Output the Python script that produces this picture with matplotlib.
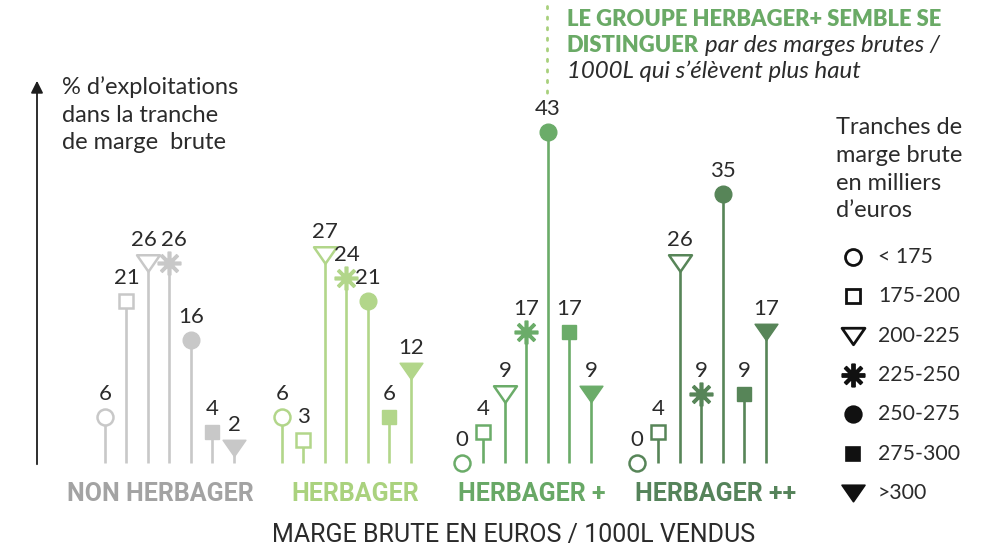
import matplotlib.pyplot as plt
from matplotlib.markers import MarkerStyle
from matplotlib.path import Path

plt.rcParams['font.family'] = ['Lato', 'DejaVu Sans']

# donnees (% d'exploitations par tranche)
groupes = ['NON HERBAGER', 'HERBAGER', 'HERBAGER +', 'HERBAGER ++']
tranches = ['< 175', '175-200', '200-225', '225-250', '250-275', '275-300', '>300']
non_herbager = [6, 21, 26, 26, 16, 4, 2]
herbager = [6, 3, 27, 24, 21, 6, 12]
herbager_plus = [0, 4, 9, 17, 43, 17, 9]
herbager_pp = [0, 4, 26, 9, 35, 9, 17]
series = [non_herbager, herbager, herbager_plus, herbager_pp]

couleurs = ['#c8c8c8', '#b2d68a', '#6bac69', '#578558']
couleurs_txt = ['#a3a3a3', '#aad27e', '#68a866', '#55835a']
TXT = '#2b2b2b'

W, H = 1002, 552
Y0, PX_PAR_PCT = 463, 7.7


def yv(py):
    # pixel vertical -> valeur en %
    return (Y0 - py) / PX_PAR_PCT


def fx(px):
    return px / W


def fy(py):
    return 1 - py / H


tri = Path([(-1, 0.72), (1, 0.72), (0, -0.72), (-1, 0.72)],
           [Path.MOVETO, Path.LINETO, Path.LINETO, Path.CLOSEPOLY])
etoile = MarkerStyle((8, 2, 0), capstyle='round')
# (marqueur, plein ?, taille, epaisseur)
styles = [('o', False, 11.5, 1.8), ('s', False, 10.5, 1.8), (tri, False, 16.5, 1.8),
          (etoile, True, 17, 2.6), ('o', True, 12, 1.0), ('s', True, 10.5, 1.0),
          (tri, True, 16.5, 1.0)]

debuts = [105, 282, 462, 637]
pas = 21.5
# position des noms de groupe
lab_x = [160, 355, 532, 716]

fig = plt.figure(figsize=(W / 100, H / 100), dpi=100)
ax = fig.add_axes([0, 0, 1, 1])
ax.set_xlim(0, W)
ax.set_ylim(yv(H), yv(0))
ax.axis('off')
rend = fig.canvas.get_renderer()


def ajuste(t, largeur):
    # met la taille du texte a la largeur voulue
    w = t.get_window_extent(rend).width
    t.set_fontsize(t.get_fontsize() * largeur / w)


for g, vals in enumerate(series):
    c = couleurs[g]
    for i, v in enumerate(vals):
        x = debuts[g] + i * pas
        ax.plot([x, x], [0, v], color=c, lw=1.9, zorder=1, solid_capstyle='butt')
        m, plein, ms, mew = styles[i]
        ax.plot([x], [v], marker=m, ms=ms, mec=c, mew=mew,
                mfc=c if plein else 'white', zorder=3, clip_on=False)
        dx = 0
        if g == 0 and i in (2, 3):
            dx = -3 if i == 2 else 3  # les deux "26" se touchent
        ax.annotate(str(v), (x, v), xytext=(dx, 16.5), textcoords='offset points',
                    ha='center', va='center', fontsize=16, color=TXT)

t0 = ax.text(lab_x[0], yv(494), groupes[0], ha='center', va='center', fontsize=16,
             fontweight='bold', color=couleurs_txt[0], family=['Roboto'])
ajuste(t0, 186)
for g in range(1, 4):
    ax.text(lab_x[g], yv(494), groupes[g], ha='center', va='center',
            fontsize=t0.get_fontsize(), fontweight='bold', color=couleurs_txt[g],
            family=['Roboto'])

t = ax.text(514, yv(535), 'MARGE BRUTE EN EUROS / 1000L VENDUS', ha='center', va='center',
            fontsize=16.5, color=TXT, family=['Roboto'])
ajuste(t, 482)

# axe vertical avec fleche
ax.annotate('', xy=(37, yv(78)), xytext=(37, yv(467)),
            arrowprops=dict(arrowstyle='-|>', color='#1e1e1e', lw=1.3,
                            mutation_scale=18))
fig.text(fx(62), fy(76), '% d\u2019exploitations\ndans la tranche\nde marge  brute',
         ha='left', va='top', fontsize=17, color=TXT, linespacing=1.4)

# legende
fig.text(fx(836), fy(117), 'Tranches de\nmarge brute\nen milliers\nd\u2019euros',
         ha='left', va='top', fontsize=17, color=TXT, linespacing=1.4)
for i, tr in enumerate(tranches):
    py = 257 + i * 39.3
    m, plein, ms, mew = styles[i]
    ax.plot([853], [yv(py)], marker=m, ms=ms, mec='#111111', mew=mew + 0.2,
            mfc='#111111' if plein else 'white', clip_on=False)
    ax.text(878, yv(py), tr, ha='left', va='center', fontsize=15.3, color=TXT)

# encart texte en haut
ax.plot([547, 547], [yv(6), yv(96)], color='#a8d07c', lw=2, linestyle=(0, (0.8, 3)),
        dash_capstyle='round')
vert = '#6aaa66'
t1 = fig.text(fx(567), fy(19), 'LE GROUPE HERBAGER+ SEMBLE SE', ha='left', va='center',
              fontsize=15.8, fontweight='heavy', color=vert)
ajuste(t1, 375)
t2 = fig.text(fx(567), fy(45), 'DISTINGUER', ha='left', va='center',
              fontsize=t1.get_fontsize(), fontweight='heavy', color=vert)
t3 = fig.text(fx(705), fy(45), 'par des marges brutes /', ha='left', va='center',
              fontsize=16, style='italic', color=TXT)
ajuste(t3, 235)
fig.text(fx(567), fy(71), '1000L qui s\u2019\u00e9l\u00e8vent plus haut', ha='left', va='center',
         fontsize=t3.get_fontsize(), style='italic', color=TXT)

fig.savefig('out.png', dpi=100)
